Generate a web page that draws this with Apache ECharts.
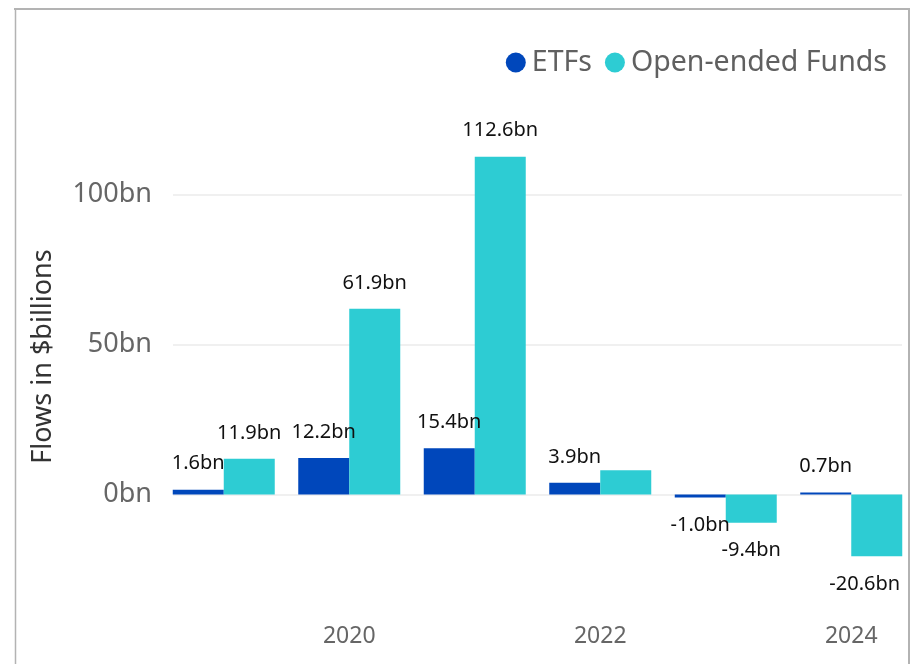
<!DOCTYPE html>
<html>
<head>
<meta charset="utf-8">
<script src="https://cdn.jsdelivr.net/npm/echarts@6/dist/echarts.min.js"></script>
<style>
html,body{margin:0;padding:0;background:#fff;}
#chart{width:917px;height:664px;}
</style>
</head>
<body>
<div id="chart"></div>
<script>
// ---- data ----
const years = ['2019', '2020', '2021', '2022', '2023', '2024'];
const etfFlows = [1.6, 12.2, 15.4, 3.9, -1.0, 0.7];
const openEndedFlows = [11.9, 61.9, 112.6, 8.1, -9.4, -20.6];
const seriesNames = ['ETFs', 'Open-ended Funds'];
const yTicks = [0, 50, 100];
// labels not shown in the reference: [seriesIndex, dataIndex]
const hiddenLabels = [[1, 3]];

const FONT = 'Noto Sans';
const colors = ['#0047BB', '#2DCCD3'];

function buildData(values, sIdx) {
  const n = values.length;
  return values.map((v, i) => {
    const hidden = hiddenLabels.some(h => h[0] === sIdx && h[1] === i);
    // keep the label of the last (right-most) bar inside the chart
    const shift = (sIdx === 1 && i === n - 1) ? -12 : 0;
    return {
      value: v,
      label: {
        show: !hidden,
        position: v < 0 ? 'bottom' : 'top',
        distance: v < 0 ? 18 : 16,
        offset: [shift, 0]
      }
    };
  });
}

const chart = echarts.init(document.getElementById('chart'));
const option = {
  animation: false,
  textStyle: { fontFamily: FONT },
  color: colors,
  legend: {
    data: seriesNames,
    right: 25,
    top: 43,
    icon: 'circle',
    itemWidth: 20,
    itemHeight: 20,
    itemGap: 13,
    textStyle: { fontFamily: FONT, fontSize: 28.5, color: '#606060', padding: [0, 0, 0, 1] }
  },
  graphic: [
    { type: 'line', shape: { x1: 14, y1: 9, x2: 910, y2: 9 }, style: { stroke: '#b3b3b3', lineWidth: 2 }, silent: true },
    { type: 'line', shape: { x1: 15.5, y1: 8, x2: 15.5, y2: 664 }, style: { stroke: '#b3b3b3', lineWidth: 1.5 }, silent: true },
    { type: 'line', shape: { x1: 909, y1: 8, x2: 909, y2: 664 }, style: { stroke: '#b3b3b3', lineWidth: 2 }, silent: true }
  ],
  grid: [
    { left: 173, right: 15, top: 44.5, height: 600, containLabel: false },
    { left: 161, right: 3, top: 44.5, height: 575.5, containLabel: false }
  ],
  xAxis: [
    { type: 'category', gridIndex: 0, data: years, show: false },
    {
      type: 'category', gridIndex: 1, data: years,
      axisLine: { show: false }, axisTick: { show: false },
      axisLabel: {
        interval: function (i) { return i % 2 === 1; },
        margin: 5,
        fontFamily: FONT, fontSize: 23, color: '#666'
      }
    }
  ],
  yAxis: [
    {
      type: 'value', gridIndex: 0, min: -50, max: 150, interval: 50,
      axisLine: { show: false }, axisTick: { show: false },
      splitLine: { show: true, showMinLine: false, showMaxLine: false, lineStyle: { color: '#ebebeb', width: 1.5 } },
      axisLabel: {
        margin: 21,
        fontFamily: FONT, fontSize: 27, color: '#666',
        formatter: function (v) { return yTicks.indexOf(v) >= 0 ? v + 'bn' : ''; }
      },
      name: 'Flows in $billions',
      nameLocation: 'middle',
      nameGap: 116,
      nameTextStyle: { fontFamily: FONT, fontSize: 27, color: '#333', padding: [0, 24, 0, 0] }
    },
    {
      type: 'value', gridIndex: 1, min: -125.5 / 3, max: 150,
      show: false, splitLine: { show: false }
    }
  ],
  series: [
    {
      name: seriesNames[0], type: 'bar', xAxisIndex: 1, yAxisIndex: 1,
      barWidth: 51, barGap: '0%',
      data: buildData(etfFlows, 0),
      label: { fontFamily: FONT, fontSize: 20, color: '#111', formatter: p => p.value.toFixed(1) + 'bn' }
    },
    {
      name: seriesNames[1], type: 'bar', xAxisIndex: 1, yAxisIndex: 1,
      barWidth: 51, barGap: '0%',
      data: buildData(openEndedFlows, 1),
      label: { fontFamily: FONT, fontSize: 20, color: '#111', formatter: p => p.value.toFixed(1) + 'bn' }
    }
  ]
};
chart.setOption(option);
</script>
</body>
</html>
